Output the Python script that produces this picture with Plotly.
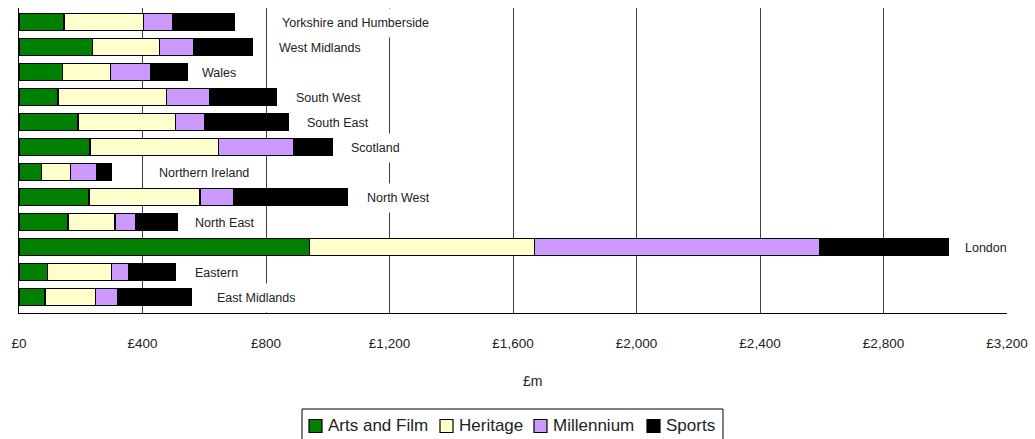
import plotly.graph_objects as go

# Data (bottom-to-top order as plotted)
regions = ["East Midlands", "Eastern", "London", "North East", "North West",
           "Northern Ireland", "Scotland", "South East", "South West", "Wales",
           "West Midlands", "Yorkshire and Humberside"]
arts_film = [84, 91, 940, 159, 227, 72, 230, 191, 126, 141, 237, 146]
heritage = [163, 209, 729, 152, 359, 96, 415, 315, 352, 155, 218, 258]
millennium = [71, 56, 924, 68, 110, 83, 243, 96, 140, 131, 112, 95]
sports = [241, 151, 417, 135, 369, 48, 127, 271, 215, 117, 188, 200]

tick_vals = [0, 400, 800, 1200, 1600, 2000, 2400, 2800, 3200]
tick_text = ["£0", "£400", "£800", "£1,200", "£1,600", "£2,000", "£2,400", "£2,800", "£3,200"]

series_names = ["Arts and Film", "Heritage", "Millennium", "Sports"]
series_colors = ["#008000", "#FFFFCC", "#CC99FF", "#000000"]
series_values = [arts_film, heritage, millennium, sports]

# label gap (px) between bar end and region label
label_gap = [25, 19, 17, 17, 19, 48, 19, 18, 20, 15, 27, 47]

FONT = "Liberation Sans, Arial, sans-serif"
TXT = "#222222"

W, H = 1035, 439
ML, MR, MT, MB = 19, 28, 8, 126
PW, PH = W - ML - MR, H - MT - MB


def px_x(px):
    return (px - ML) / PW


def px_y(py):
    return (H - MB - py) / PH


fig = go.Figure()
for name, vals, col in zip(series_names, series_values, series_colors):
    fig.add_trace(go.Bar(
        y=regions, x=vals, name=name, orientation="h",
        marker=dict(color=col, line=dict(color="#000000", width=1.2)),
        hoverinfo="x+name", showlegend=False))

totals = [a + b + c + d for a, b, c, d in zip(arts_film, heritage, millennium, sports)]
for reg, tot, gap in zip(regions, totals, label_gap):
    fig.add_annotation(x=tot, y=reg, xref="x", yref="y", text=reg,
                       showarrow=False, xanchor="left", yanchor="middle",
                       xshift=gap - 3, yshift=-1, bgcolor="#FFFFFF", borderpad=2, height=24,
                       font=dict(family=FONT, size=12.5, color=TXT))

# axis title
fig.add_annotation(x=px_x(532), y=px_y(381), xref="paper", yref="paper", text="£m",
                   showarrow=False, xanchor="center", yanchor="middle",
                   font=dict(family=FONT, size=14, color=TXT))

# legend (drawn as a boxed key below the chart)
fig.add_shape(type="rect", xref="paper", yref="paper",
              x0=px_x(302), x1=px_x(723), y0=px_y(409), y1=px_y(442),
              line=dict(color="#000000", width=1), fillcolor="#FFFFFF", layer="above")
swatch_left = [309, 440, 534, 647]
for name, col, sx in zip(series_names, series_colors, swatch_left):
    fig.add_shape(type="rect", xref="paper", yref="paper",
                  x0=px_x(sx), x1=px_x(sx + 13), y0=px_y(419.5), y1=px_y(432.5),
                  line=dict(color="#000000", width=1.2), fillcolor=col, layer="above")
    fig.add_annotation(x=px_x(sx + 17), y=px_y(425.5), xref="paper", yref="paper",
                       text=name, showarrow=False, xanchor="left", yanchor="middle",
                       font=dict(family=FONT, size=17, color=TXT))

fig.update_layout(
    width=W, height=H,
    margin=dict(l=ML, r=MR, t=MT, b=MB, autoexpand=False),
    barmode="stack", bargap=0.33,
    paper_bgcolor="#FFFFFF", plot_bgcolor="#FFFFFF",
    font=dict(family=FONT, color=TXT),
    showlegend=False,
    xaxis=dict(range=[0, 3200], tickvals=tick_vals, ticktext=tick_text,
               showgrid=True, gridcolor="#404040", gridwidth=1,
               showline=True, linecolor="#000000", linewidth=1,
               zeroline=False, ticks="", ticklabelstandoff=18, automargin=False,
               tickfont=dict(family=FONT, size=13.5, color=TXT), fixedrange=True),
    yaxis=dict(showticklabels=False, showgrid=False, zeroline=False,
               showline=True, linecolor="#000000", linewidth=1, ticks="",
               automargin=False, fixedrange=True),
)

fig.write_html("out.html", config={"displayModeBar": False},
               post_script="document.body.style.margin='0';document.body.style.overflow='hidden';")
